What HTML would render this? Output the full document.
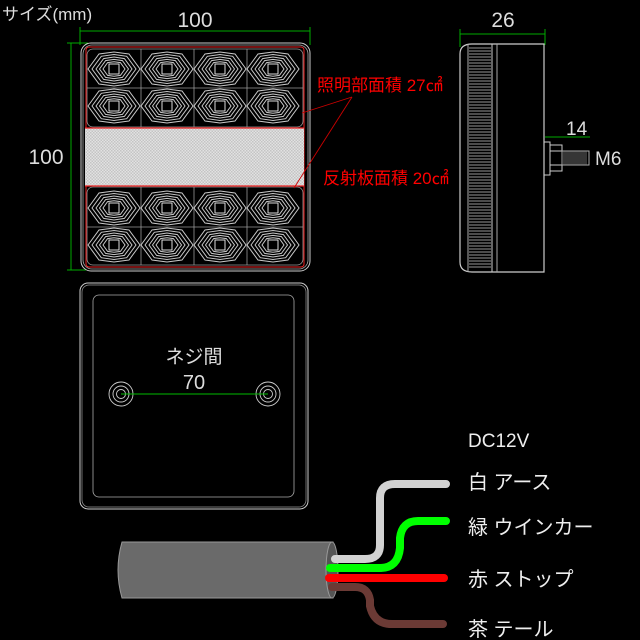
<!DOCTYPE html>
<html><head><meta charset="utf-8"><style>
html,body{margin:0;padding:0;background:#000;}
svg{display:block}
text{font-family:"Liberation Sans","Noto Sans CJK JP",sans-serif;}
</style></head><body>
<svg width="640" height="640" viewBox="0 0 640 640" xmlns="http://www.w3.org/2000/svg">
<defs>
<g id="led" fill="none" stroke="#c8c8c8" stroke-width="1">
<polygon points="-26,0 -15,-15 0,-17 15,-15 26,0 15,15 0,17 -15,15"/>
<polygon points="-22,0 -12.7,-12.7 0,-14.5 12.7,-12.7 22,0 12.7,12.7 0,14.5 -12.7,12.7"/>
<polygon points="-18,0 -10.4,-10.4 0,-12 10.4,-10.4 18,0 10.4,10.4 0,12 -10.4,10.4"/>
<polygon points="-14.5,0 -8.4,-8.4 0,-9.6 8.4,-8.4 14.5,0 8.4,8.4 0,9.6 -8.4,8.4"/>
<polygon points="-11,0 -6.4,-6.4 0,-7.3 6.4,-6.4 11,0 6.4,6.4 0,7.3 -6.4,6.4"/>
<rect x="-5" y="-5" width="10" height="10" stroke="#ddd"/>
</g>
<pattern id="chk" width="3" height="3" patternUnits="userSpaceOnUse">
<rect width="3" height="3" fill="#e2e2e2"/><rect width="1.5" height="1.5" fill="#c4c4c4"/><rect x="1.5" y="1.5" width="1.5" height="1.5" fill="#c4c4c4"/>
</pattern>
</defs>

<text x="2" y="20" fill="#ddd" font-size="17">サイズ(mm)</text>

<g stroke="#0a0" stroke-width="1">
<line x1="80" y1="31" x2="310" y2="31"/><line x1="80" y1="27" x2="80" y2="45"/><line x1="310" y1="27" x2="310" y2="45"/>
<line x1="71" y1="43" x2="71" y2="270"/><line x1="67" y1="43" x2="88" y2="43"/><line x1="67" y1="270" x2="86" y2="270"/>
</g>
<text x="195" y="27" fill="#ddd" font-size="21" text-anchor="middle">100</text>
<text x="46" y="164" fill="#ddd" font-size="21" text-anchor="middle">100</text>

<rect x="81" y="43" width="229" height="228" rx="10" fill="none" stroke="#ccc" stroke-width="1"/>
<rect x="83" y="45" width="225" height="224" rx="9" fill="none" stroke="#aaa" stroke-width="0.8"/>
<rect x="86" y="47" width="218" height="220" rx="3" fill="none" stroke="#e22" stroke-width="1"/>
<g stroke="#999" stroke-width="0.8" fill="none">
<rect x="87" y="49" width="216" height="78" rx="6"/>
<rect x="87" y="187" width="216" height="78" rx="6"/>
<line x1="141" y1="49" x2="141" y2="127"/><line x1="194" y1="49" x2="194" y2="127"/><line x1="247" y1="49" x2="247" y2="127"/>
<line x1="87" y1="88" x2="303" y2="88"/>
<line x1="141" y1="187" x2="141" y2="265"/><line x1="194" y1="187" x2="194" y2="265"/><line x1="247" y1="187" x2="247" y2="265"/>
<line x1="87" y1="227" x2="303" y2="227"/>
</g>
<g>
<use href="#led" x="114" y="69"/><use href="#led" x="167" y="69"/><use href="#led" x="220" y="69"/><use href="#led" x="273" y="69"/>
<use href="#led" x="114" y="106"/><use href="#led" x="167" y="106"/><use href="#led" x="220" y="106"/><use href="#led" x="273" y="106"/>
<use href="#led" x="114" y="208"/><use href="#led" x="167" y="208"/><use href="#led" x="220" y="208"/><use href="#led" x="273" y="208"/>
<use href="#led" x="114" y="245"/><use href="#led" x="167" y="245"/><use href="#led" x="220" y="245"/><use href="#led" x="273" y="245"/>
</g>
<rect x="85" y="128" width="219" height="58" fill="url(#chk)"/>
<line x1="85" y1="128" x2="304" y2="128" stroke="#e22" stroke-width="1.2"/>
<line x1="85" y1="186" x2="304" y2="186" stroke="#e22" stroke-width="1.2"/>

<g stroke="#c00" stroke-width="0.9">
<line x1="352" y1="97" x2="302" y2="113"/><line x1="352" y1="97" x2="294" y2="188"/>
</g>
<text x="317" y="91" fill="#f00" font-size="17">照明部面積 27㎠</text>
<text x="323" y="184" fill="#f00" font-size="17">反射板面積 20㎠</text>

<g stroke="#0a0" stroke-width="1">
<line x1="460" y1="34" x2="545" y2="34"/><line x1="460" y1="29" x2="460" y2="47"/><line x1="545" y1="29" x2="545" y2="45"/>
<line x1="545" y1="137" x2="590" y2="137"/>
</g>
<text x="503" y="27" fill="#ddd" font-size="21" text-anchor="middle">26</text>
<text x="566" y="135" fill="#ddd" font-size="19">14</text>
<text x="595" y="165" fill="#ddd" font-size="19">M6</text>
<path d="M472,44 H544 V272 H472 Q460,272 460,262 V54 Q460,44 472,44 Z" fill="none" stroke="#ccc" stroke-width="1.2"/>
<line x1="468" y1="44" x2="468" y2="272" stroke="#aaa"/>
<line x1="492" y1="44" x2="492" y2="272" stroke="#ccc"/>
<line x1="497" y1="44" x2="497" y2="272" stroke="#aaa"/>
<g stroke="#999" stroke-width="1">
<path d="M469,48 H491 M469,51 H491 M469,54 H491 M469,57 H491 M469,60 H491 M469,63 H491 M469,66 H491 M469,69 H491 M469,72 H491 M469,75 H491 M469,78 H491 M469,81 H491 M469,84 H491 M469,87 H491 M469,90 H491 M469,93 H491 M469,96 H491 M469,99 H491 M469,102 H491 M469,105 H491 M469,108 H491 M469,111 H491 M469,114 H491 M469,117 H491 M469,120 H491 M469,123 H491 M469,126 H491 M469,129 H491 M469,132 H491 M469,135 H491 M469,138 H491 M469,141 H491 M469,144 H491 M469,147 H491 M469,150 H491 M469,153 H491 M469,156 H491 M469,159 H491 M469,162 H491 M469,165 H491 M469,168 H491 M469,171 H491 M469,174 H491 M469,177 H491 M469,180 H491 M469,183 H491 M469,186 H491 M469,189 H491 M469,192 H491 M469,195 H491 M469,198 H491 M469,201 H491 M469,204 H491 M469,207 H491 M469,210 H491 M469,213 H491 M469,216 H491 M469,219 H491 M469,222 H491 M469,225 H491 M469,228 H491 M469,231 H491 M469,234 H491 M469,237 H491 M469,240 H491 M469,243 H491 M469,246 H491 M469,249 H491 M469,252 H491 M469,255 H491 M469,258 H491 M469,261 H491 M469,264 H491 M469,267 H491"/>
</g>
<g fill="none" stroke="#ccc" stroke-width="1">
<rect x="544" y="142" width="6" height="33"/>
<rect x="550" y="145" width="12" height="26"/>
<line x1="550" y1="151" x2="562" y2="151"/><line x1="550" y1="165" x2="562" y2="165"/>
<rect x="562" y="151" width="27" height="14" stroke="#aaa"/>
</g>
<path d="M564,151 v14 M566,151 v14 M568,151 v14 M570,151 v14 M572,151 v14 M574,151 v14 M576,151 v14 M578,151 v14 M580,151 v14 M582,151 v14 M584,151 v14 M586,151 v14" stroke="#888" stroke-width="0.8"/>

<rect x="80" y="283" width="228" height="226" rx="8" fill="none" stroke="#ccc" stroke-width="1"/>
<rect x="82" y="285" width="224" height="222" rx="7" fill="none" stroke="#999" stroke-width="0.7"/>
<rect x="93" y="295" width="201" height="202" rx="6" fill="none" stroke="#aaa" stroke-width="0.8"/>
<g fill="none" stroke="#ccc" stroke-width="0.9">
<circle cx="121" cy="394" r="12"/><circle cx="121" cy="394" r="8"/><circle cx="121" cy="394" r="4.5"/>
<circle cx="268" cy="394" r="12"/><circle cx="268" cy="394" r="8"/><circle cx="268" cy="394" r="4.5"/>
</g>
<line x1="121" y1="394" x2="268" y2="394" stroke="#0b0" stroke-width="1"/>
<text x="194" y="363" fill="#ddd" font-size="19" text-anchor="middle">ネジ間</text>
<text x="194" y="389" fill="#ddd" font-size="20" text-anchor="middle">70</text>

<path d="M122,542 H333 V598 H122 Q114,570 122,542 Z" fill="#6a6a6a" stroke="#999" stroke-width="1"/>
<ellipse cx="332" cy="570" rx="6" ry="28" fill="#555" stroke="#999" stroke-width="1"/>
<g fill="none" stroke-linecap="round" stroke-width="8">
<path d="M335,559 H365 Q380,559 380,545 V498 Q380,484 395,484 H446" stroke="#d2d2d2"/>
<path d="M330,568 H380 Q398,568 400,548 V538 Q402,521 418,521 H446" stroke="#0f0"/>
<path d="M329,578 H444" stroke="#f00"/>
<path d="M332,587 H355 Q368,587 370,600 V606 Q374,624 392,624 H443" stroke="#6b3a35"/>
</g>
<text x="468" y="447" fill="#eee" font-size="19">DC12V</text>
<text x="468" y="489" fill="#eee" font-size="20">白 アース</text>
<text x="468" y="534" fill="#eee" font-size="20">緑 ウインカー</text>
<text x="468" y="586" fill="#eee" font-size="20">赤 ストップ</text>
<text x="468" y="636" fill="#eee" font-size="20">茶 テール</text>
</svg>
</body></html>
